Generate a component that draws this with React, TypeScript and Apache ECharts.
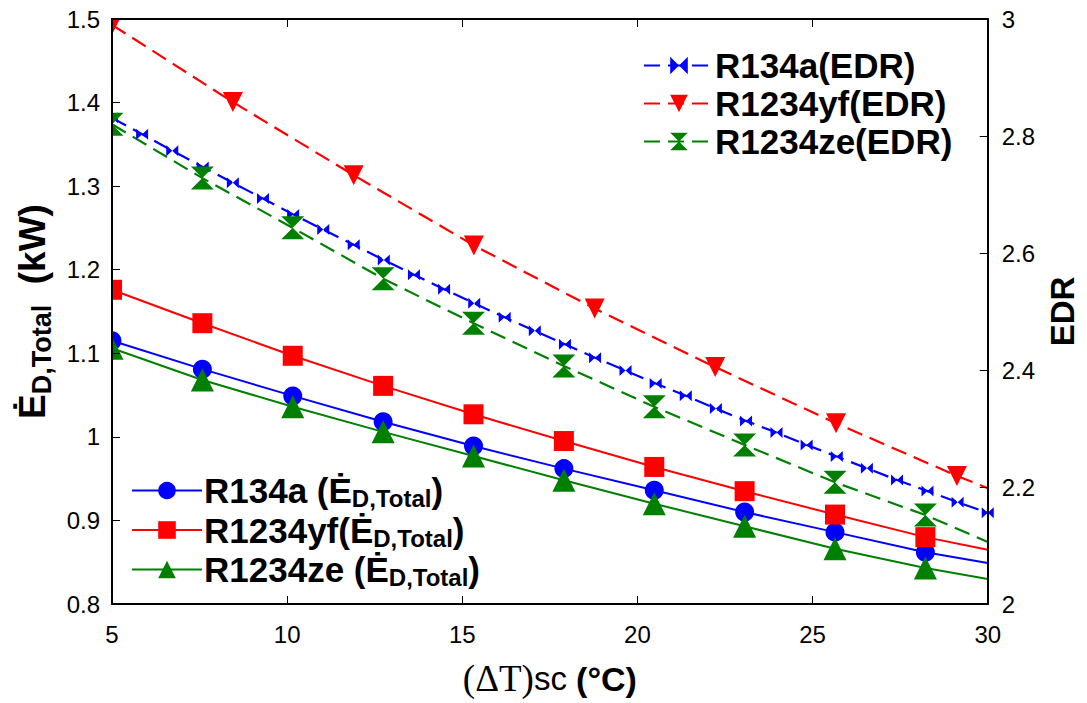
import React, { useEffect, useRef } from "react";
import * as echarts from "echarts";

// ---- data ----
const xEd = [5, 7.58, 10.16, 12.74, 15.32, 17.9, 20.48, 23.06, 25.64, 28.22, 30];
const edR134a = [1.115, 1.081, 1.049, 1.018, 0.989, 0.962, 0.936, 0.91, 0.886, 0.862, 0.849];
const edR1234yf = [1.176, 1.136, 1.097, 1.061, 1.027, 0.995, 0.964, 0.935, 0.907, 0.88, 0.865];
const edR1234ze = [1.106, 1.068, 1.036, 1.006, 0.977, 0.948, 0.92, 0.893, 0.866, 0.843, 0.83];

const xEdrR134a = [5, 5.86, 6.72, 7.59, 8.45, 9.31, 10.17, 11.03, 11.9, 12.76, 13.62, 14.48, 15.34, 16.21, 17.07, 17.93, 18.79, 19.66, 20.52, 21.38, 22.24, 23.1, 23.97, 24.83, 25.69, 26.55, 27.41, 28.28, 29.14, 30];
const edrR134a = [2.831, 2.803, 2.775, 2.747, 2.72, 2.693, 2.666, 2.64, 2.614, 2.588, 2.563, 2.538, 2.514, 2.49, 2.467, 2.444, 2.421, 2.399, 2.377, 2.356, 2.334, 2.313, 2.293, 2.272, 2.252, 2.232, 2.212, 2.193, 2.174, 2.156];

const xEdrR1234yf = [5, 8.45, 11.9, 15.33, 18.78, 22.22, 25.67, 29.12, 30];
const edrR1234yf = [2.99, 2.858, 2.733, 2.613, 2.505, 2.405, 2.309, 2.219, 2.198];

const xEdrR1234ze = xEd;
const edrR1234ze = [2.82, 2.728, 2.643, 2.556, 2.48, 2.407, 2.337, 2.272, 2.208, 2.152, 2.106];

const xTicks = { min: 5, max: 30, interval: 5 };
const yLeftTicks = { min: 0.8, max: 1.5, interval: 0.1 };
const yRightTicks = { min: 2, max: 3, interval: 0.2 };

const edNames = ["R134a (Ed)", "R1234yf (Ed)", "R1234ze (Ed)"];
const edLegendText: Record<string, string> = {
  "R134a (Ed)": "{m|R134a (Ė}{s|D,Total}{m|)}",
  "R1234yf (Ed)": "{m|R1234yf(Ė}{s|D,Total}{m|)}",
  "R1234ze (Ed)": "{m|R1234ze (Ė}{s|D,Total}{m|)}",
};
const edrNames = ["R134a(EDR)", "R1234yf(EDR)", "R1234ze(EDR)"];

const BLUE = "#0000ff";
const RED = "#ff0000";
const GREEN = "#008000";
const SANS = "Liberation Sans, Arial, sans-serif";

const BOWTIE = "path://M0,0L10,5L0,10ZM20,0L10,5L20,10Z";
const HOURGLASS = "path://M0,0L20,0L10,10ZM0,20L20,20L10,10Z";

function pairs(xs: number[], ys: number[], lastNoSymbol: boolean) {
  return xs.map((x, i) =>
    lastNoSymbol && i === xs.length - 1 ? { value: [x, ys[i]], symbol: "none" } : [x, ys[i]]
  );
}

export default function App() {
  const ref = useRef<HTMLDivElement>(null);
  useEffect(() => {
    document.body.style.margin = "0";
    if (!ref.current) return;
    const chart = echarts.init(ref.current, undefined, { renderer: "svg" });

    const axisLabel = { color: "#000", fontSize: 24, fontFamily: SANS };
    const axisLine = { show: true, lineStyle: { color: "#000", width: 2 } };
    const axisTick = { show: true, inside: true, length: 8, lineStyle: { color: "#000", width: 1 } };

    const solid = (name: string, xs: number[], ys: number[], color: string, symbol: string, size: number) => ({
      name,
      type: "line",
      yAxisIndex: 0,
      data: pairs(xs, ys, true),
      symbol,
      symbolSize: size,
      showAllSymbol: true,
      lineStyle: { color, width: 2 },
      itemStyle: { color },
      z: 3,
    });
    const dashed = (name: string, xs: number[], ys: number[], color: string, symbol: string, size: any, rotate: number, lastNo: boolean) => ({
      name,
      type: "line",
      yAxisIndex: 1,
      data: pairs(xs, ys, lastNo),
      symbol,
      symbolSize: size,
      symbolRotate: rotate,
      showAllSymbol: true,
      lineStyle: { color, width: 2.2, type: [16, 8] },
      itemStyle: { color },
      z: 2,
    });

    chart.setOption({
      animation: false,
      backgroundColor: "#fff",
      grid: { left: 112, right: 93, top: 19, bottom: 99, containLabel: false },
      // white masks outside the plot box so that edge markers are clipped as in the reference
      graphic: [
        { type: "rect", shape: { x: 0, y: 0, width: 111, height: 703 }, style: { fill: "#fff" }, z: 5, silent: true },
        { type: "rect", shape: { x: 0, y: 0, width: 1087, height: 18 }, style: { fill: "#fff" }, z: 5, silent: true },
        { type: "rect", shape: { x: 995, y: 0, width: 92, height: 703 }, style: { fill: "#fff" }, z: 5, silent: true },
      ],
      xAxis: [
        {
          type: "value",
          z: 10,
          ...xTicks,
          axisLine,
          axisTick,
          axisLabel: { ...axisLabel, margin: 18 },
          splitLine: { show: false },
          name: "{a|(ΔT)}{b|sc }{c|(°C)}",
          nameLocation: "middle",
          nameGap: 56,
          nameTextStyle: {
            rich: {
              a: { fontFamily: "Liberation Serif, Times New Roman, serif", fontSize: 37, color: "#000" },
              b: { fontFamily: SANS, fontSize: 33, color: "#000" },
              c: { fontFamily: SANS, fontSize: 34, fontWeight: "bold", color: "#000" },
            },
          },
        },
        {
          type: "value",
          z: 10,
          position: "top",
          ...xTicks,
          axisLine,
          axisTick,
          axisLabel: { show: false },
          splitLine: { show: false },
        },
      ],
      yAxis: [
        {
          type: "value",
          z: 10,
          ...yLeftTicks,
          axisLine,
          axisTick,
          axisLabel: { ...axisLabel, margin: 12 },
          splitLine: { show: false },
          name: "{m|Ė}{s|D,Total}{m|  (kW)}",
          nameLocation: "middle",
          nameRotate: 90,
          nameGap: 50,
          nameTextStyle: {
            rich: {
              m: { fontFamily: SANS, fontSize: 37, fontWeight: "bold", color: "#000", lineHeight: 46 },
              s: { fontFamily: SANS, fontSize: 27, fontWeight: "bold", color: "#000", lineHeight: 27, verticalAlign: "bottom" },
            },
          },
        },
        {
          type: "value",
          z: 10,
          position: "right",
          ...yRightTicks,
          axisLine,
          axisTick,
          axisLabel: { ...axisLabel, margin: 14 },
          splitLine: { show: false },
          name: "EDR",
          nameLocation: "middle",
          nameRotate: 90,
          nameGap: 58,
          nameTextStyle: { fontFamily: SANS, fontSize: 33, fontWeight: "bold", color: "#000" },
        },
      ],
      legend: [
        {
          data: edrNames,
          orient: "vertical",
          left: 638,
          top: 43,
          itemWidth: 70,
          itemHeight: 22,
          itemGap: 3,
          textStyle: { fontFamily: SANS, fontSize: 35, fontWeight: "bold", color: "#000", padding: [0, 0, 0, -4] },
        },
        {
          data: edNames,
          orient: "vertical",
          left: 126,
          top: 468,
          itemWidth: 70,
          itemHeight: 22,
          itemGap: 2,
          formatter: (name: string) => edLegendText[name] || name,
          textStyle: {
            color: "#000",
            padding: [0, 0, 0, -3],
            rich: {
              m: { fontFamily: SANS, fontSize: 35, fontWeight: "bold", color: "#000", lineHeight: 40 },
              s: { fontFamily: SANS, fontSize: 24, fontWeight: "bold", color: "#000", lineHeight: 24, verticalAlign: "bottom" },
            },
          },
        },
      ],
      series: [
        dashed(edrNames[0], xEdrR134a, edrR134a, BLUE, BOWTIE, [12, 11], 0, false),
        dashed(edrNames[1], xEdrR1234yf, edrR1234yf, RED, "triangle", 20, 180, true),
        dashed(edrNames[2], xEdrR1234ze, edrR1234ze, GREEN, HOURGLASS, 23, 0, true),
        solid(edNames[0], xEd, edR134a, BLUE, "circle", 19),
        solid(edNames[1], xEd, edR1234yf, RED, "rect", 20),
        solid(edNames[2], xEd, edR1234ze, GREEN, "triangle", 23),
      ],
    });
    return () => chart.dispose();
  }, []);
  return <div ref={ref} style={{ width: 1087, height: 703 }} />;
}
